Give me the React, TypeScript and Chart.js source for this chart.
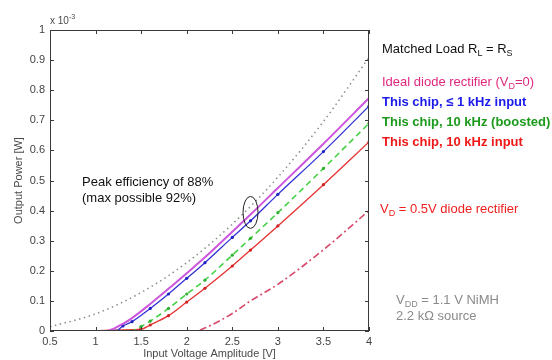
import React, { useEffect, useRef } from "react";
import { Chart, registerables } from "chart.js";
Chart.register(...registerables);

// ---- data (power in mW, i.e. x 10^-3 W) ----
const xTicksStep = 0.5;
const yTicksStep = 0.1;

const matchedV = [0.5, 1.0, 1.5, 2.0, 2.5, 3.0, 3.5, 4.0];
const matchedP = [0.014, 0.057, 0.128, 0.227, 0.355, 0.511, 0.696, 0.909];

const idealV = [0.5, 1.1, 1.2, 1.3, 1.4, 1.6, 1.8, 2.0, 2.2, 2.5, 2.7, 3.0, 3.5, 4.0];
const idealP = [0, 0, 0.008, 0.024, 0.043, 0.09, 0.14, 0.192, 0.245, 0.33, 0.387, 0.475, 0.622, 0.774];

const chip1kV = [0.5, 1.22, 1.3, 1.4, 1.6, 1.8, 2.0, 2.2, 2.5, 2.7, 3.0, 3.5, 4.0];
const chip1kP = [0, 0, 0.017, 0.031, 0.075, 0.123, 0.175, 0.227, 0.311, 0.366, 0.454, 0.596, 0.747];

const boostedV = [0.5, 1.38, 1.5, 1.6, 1.8, 2.0, 2.2, 2.5, 2.7, 3.0, 3.5, 4.0];
const boostedP = [0, 0, 0.015, 0.033, 0.075, 0.123, 0.169, 0.252, 0.308, 0.393, 0.54, 0.69];

const chip10kV = [0.5, 1.49, 1.6, 1.8, 2.0, 2.2, 2.5, 2.7, 3.0, 3.5, 4.0];
const chip10kP = [0, 0.005, 0.02, 0.051, 0.096, 0.142, 0.216, 0.269, 0.349, 0.486, 0.628];

const diodeV = [0.5, 2.1, 2.2, 2.5, 2.7, 3.0, 3.5, 4.0];
const diodeP = [0, 0, 0.01, 0.058, 0.1, 0.155, 0.27, 0.4];

// peak-efficiency marker (data coords)
const peakV = 2.7;
const peakP = 0.394;

const pts = (xs: number[], ys: number[]) => xs.map((x, i) => ({ x, y: ys[i] }));
const fmt = (v: any) => String(Number(Number(v).toFixed(2)));

type Part = [string, "sub" | "sup" | null];

function drawRich(
  ctx: CanvasRenderingContext2D,
  x: number,
  y: number,
  parts: Part[],
  size: number,
  color: string,
  bold = false
) {
  ctx.save();
  ctx.fillStyle = color;
  ctx.textBaseline = "alphabetic";
  ctx.textAlign = "left";
  let cx = x;
  for (const [t, kind] of parts) {
    const s = kind ? Math.round(size * 0.72) : size;
    ctx.font = `${bold ? "bold " : ""}${s}px "Liberation Sans", Arial, sans-serif`;
    const dy = kind === "sub" ? 3 : kind === "sup" ? -5 : 0;
    ctx.fillText(t, cx, y + dy);
    cx += ctx.measureText(t).width;
  }
  ctx.restore();
}

const overlay = {
  id: "overlay",
  beforeDraw(chart: any) {
    const ctx = chart.ctx;
    ctx.save();
    ctx.fillStyle = "#ffffff";
    ctx.fillRect(0, 0, chart.width, chart.height);
    ctx.restore();
  },
  afterDraw(chart: any) {
    const ctx: CanvasRenderingContext2D = chart.ctx;
    const { left, right, top, bottom } = chart.chartArea;
    const xs = chart.scales.x;
    const ys = chart.scales.y;
    ctx.save();
    // box
    ctx.strokeStyle = "#3a3a3a";
    ctx.lineWidth = 1;
    ctx.strokeRect(Math.round(left) + 0.5, Math.round(top) + 0.5, Math.round(right - left) - 1, Math.round(bottom - top) - 1);
    // inward ticks
    ctx.beginPath();
    for (const t of xs.ticks) {
      const px = Math.round(xs.getPixelForValue(t.value)) + 0.5;
      ctx.moveTo(px, bottom);
      ctx.lineTo(px, bottom - 4);
      ctx.moveTo(px, top);
      ctx.lineTo(px, top + 4);
    }
    for (const t of ys.ticks) {
      const py = Math.round(ys.getPixelForValue(t.value)) + 0.5;
      ctx.moveTo(left, py);
      ctx.lineTo(left + 4, py);
      ctx.moveTo(right, py);
      ctx.lineTo(right - 4, py);
    }
    ctx.stroke();

    // ellipse at peak efficiency
    ctx.beginPath();
    ctx.strokeStyle = "#222";
    ctx.lineWidth = 1;
    ctx.ellipse(xs.getPixelForValue(peakV), ys.getPixelForValue(peakP), 7.5, 16, 0, 0, Math.PI * 2);
    ctx.stroke();

    // axis titles
    ctx.fillStyle = "#4a4a4a";
    ctx.font = '11px "Liberation Sans", Arial, sans-serif';
    ctx.textAlign = "center";
    ctx.textBaseline = "middle";
    ctx.fillText("Input Voltage Amplitude [V]", (left + right) / 2, 354);
    ctx.save();
    ctx.translate(19, (top + bottom) / 2);
    ctx.rotate(-Math.PI / 2);
    ctx.fillText("Output Power [W]", 0, 0);
    ctx.restore();
    ctx.restore();

    drawRich(ctx, left, 24, [["x 10", null], ["-3", "sup"]], 10, "#4a4a4a");

    // annotations
    drawRich(ctx, 82, 186, [["Peak efficiency of 88%", null]], 13, "#111");
    drawRich(ctx, 82, 202, [["(max possible 92%)", null]], 13, "#111");

    drawRich(ctx, 382, 53, [["Matched Load R", null], ["L", "sub"], [" = R", null], ["S", "sub"]], 13, "#111");
    drawRich(ctx, 382, 86, [["Ideal diode rectifier (V", null], ["D", "sub"], ["=0)", null]], 13, "#e0287e");
    drawRich(ctx, 382, 106, [["This chip, \u2264 1 kHz input", null]], 13, "#1a1aeb", true);
    drawRich(ctx, 382, 126, [["This chip, 10 kHz (boosted)", null]], 13, "#1c9a1c", true);
    drawRich(ctx, 382, 146, [["This chip, 10 kHz input", null]], 13, "#f01818", true);
    drawRich(ctx, 380, 213, [["V", null], ["D", "sub"], [" = 0.5V diode rectifier", null]], 13, "#f02020");
    drawRich(ctx, 396, 304, [["V", null], ["DD", "sub"], [" = 1.1 V NiMH", null]], 13, "#8a8a8a");
    drawRich(ctx, 396, 320, [["2.2 k\u03A9 source", null]], 13, "#8a8a8a");
  },
};

export default function App() {
  const ref = useRef<HTMLCanvasElement>(null);
  useEffect(() => {
    document.body.style.margin = "0";
    const markerR = (ctx: any) => (ctx.dataIndex === 0 ? 0 : 1.6);
    const chart = new Chart(ref.current!, {
      type: "line",
      data: {
        datasets: [
          {
            label: "Ideal diode rectifier",
            data: pts(idealV, idealP),
            borderColor: "#cc55dd",
            borderWidth: 2,
            pointRadius: 0,
            cubicInterpolationMode: "monotone",
          },
          {
            label: "This chip, <=1 kHz",
            data: pts(chip1kV, chip1kP),
            borderColor: "#3232d6",
            backgroundColor: "#2020c0",
            borderWidth: 1.3,
            pointRadius: markerR,
            pointBorderWidth: 0,
            cubicInterpolationMode: "monotone",
          },
          {
            label: "This chip, 10 kHz boosted",
            data: pts(boostedV, boostedP),
            borderColor: "#44d044",
            backgroundColor: "#30b030",
            borderWidth: 1.6,
            borderDash: [6, 4],
            pointRadius: markerR,
            pointBorderWidth: 0,
            cubicInterpolationMode: "monotone",
          },
          {
            label: "This chip, 10 kHz",
            data: pts(chip10kV, chip10kP),
            borderColor: "#e53232",
            backgroundColor: "#d02020",
            borderWidth: 1.3,
            pointRadius: markerR,
            pointBorderWidth: 0,
            cubicInterpolationMode: "monotone",
          },
          {
            label: "VD=0.5V diode",
            data: pts(diodeV, diodeP),
            borderColor: "#d84a6a",
            borderWidth: 1.6,
            borderDash: [7, 3, 2, 3],
            pointRadius: 0,
            cubicInterpolationMode: "monotone",
          },
          {
            label: "Matched load",
            data: pts(matchedV, matchedP),
            borderColor: "#8c8c8c",
            borderWidth: 1.5,
            borderDash: [1.5, 3.5],
            pointRadius: 0,
            cubicInterpolationMode: "monotone",
          },
        ],
      },
      options: {
        responsive: false,
        animation: false,
        events: [],
        layout: { padding: { top: 30, right: 183, left: 0, bottom: 0 } },
        plugins: { legend: { display: false }, tooltip: { enabled: false } },
        scales: {
          x: {
            type: "linear",
            min: 0.5,
            max: 4,
            ticks: { stepSize: xTicksStep, callback: fmt, color: "#444", font: { size: 11, family: '"Liberation Sans", Arial, sans-serif' }, padding: 4, maxRotation: 0 },
            grid: { display: false, drawTicks: false },
            border: { display: false },
            afterFit: (s: any) => {
              s.height = 29;
            },
          },
          y: {
            type: "linear",
            min: 0,
            max: 1,
            ticks: { stepSize: yTicksStep, callback: fmt, color: "#444", font: { size: 11, family: '"Liberation Sans", Arial, sans-serif' }, padding: 5 },
            grid: { display: false, drawTicks: false },
            border: { display: false },
            afterFit: (s: any) => {
              s.width = 50;
            },
          },
        },
      },
      plugins: [overlay],
    } as any);
    return () => chart.destroy();
  }, []);
  return <canvas ref={ref} width={552} height={360} style={{ display: "block" }} />;
}
